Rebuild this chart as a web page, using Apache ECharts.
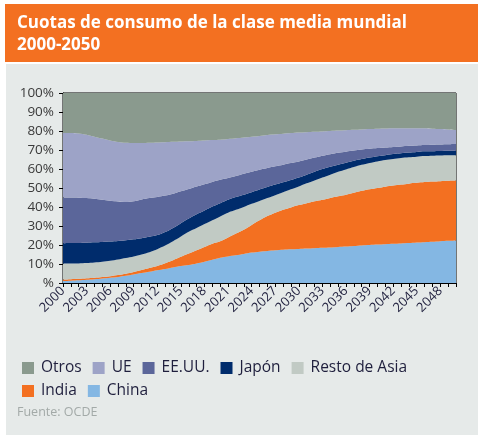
<!DOCTYPE html>
<html>
<head>
<meta charset="utf-8">
<script src="https://cdn.jsdelivr.net/npm/echarts@6/dist/echarts.min.js"></script>
<style>
  html, body { margin: 0; padding: 0; background: #fff; }
  #chart { width: 482px; height: 441px; }
</style>
</head>
<body>
<div id="chart"></div>
<script>
// cuotas de consumo, % del total
const years = [];
for (let y = 2000; y <= 2050; y++) years.push(String(y));

const china = [1.0, 1.2, 1.4, 1.7, 2.0, 2.4, 2.8, 3.2, 3.8, 4.5, 5.2, 5.9, 6.7, 7.4, 8.2, 8.9, 9.5, 10.3, 11.2, 12.3, 13.3,
  14.0, 14.6, 15.3, 16.0, 16.5, 16.9, 17.2, 17.5, 17.7, 17.9, 18.1, 18.3, 18.5, 18.7, 19.0, 19.2, 19.5, 19.8, 20.0, 20.2,
  20.4, 20.6, 20.8, 21.0, 21.3, 21.5, 21.7, 22.0, 22.2, 22.4];
const india = [0.8, 0.8, 0.8, 0.8, 0.8, 0.8, 0.8, 1.0, 1.1, 1.3, 1.6, 2.0, 2.3, 3.0, 3.8, 4.9, 6.0, 6.9, 7.8, 8.4, 8.7,
  10.0, 11.4, 12.7, 14.5, 16.5, 18.3, 19.8, 21.0, 22.1, 23.1, 23.9, 24.7, 25.3, 26.1, 26.7, 27.3, 28.0, 28.7, 29.3, 29.8,
  30.3, 30.7, 31.0, 31.3, 31.4, 31.6, 31.7, 31.6, 31.6, 31.5];
const restoAsia = [8.4, 8.2, 8.1, 8.0, 8.0, 8.0, 8.1, 8.2, 8.3, 8.2, 8.2, 8.3, 8.8, 9.3, 10.0, 10.7, 11.5, 11.8, 12.0, 12.3, 13.0,
  13.0, 12.5, 12.0, 11.2, 10.2, 9.5, 9.2, 9.3, 9.5, 9.8, 10.5, 11.0, 11.7, 12.2, 12.8, 13.3, 13.5, 13.7, 13.9, 14.0,
  14.0, 14.0, 14.0, 13.9, 13.8, 13.7, 13.6, 13.5, 13.4, 13.3];
const japon = [10.7, 10.8, 10.8, 10.7, 10.6, 10.4, 10.1, 9.7, 9.3, 9.0, 8.6, 8.1, 7.4, 7.1, 7.0, 7.0, 7.0, 7.2, 7.2, 7.2, 7.0,
  6.8, 6.7, 6.5, 6.1, 6.0, 5.8, 5.6, 5.2, 4.9, 4.7, 4.5, 4.6, 4.5, 4.2, 3.8, 3.5, 3.3, 3.0, 2.8, 2.7,
  2.6, 2.6, 2.5, 2.5, 2.5, 2.5, 2.4, 2.4, 2.4, 2.4];
const eeuu = [24.1, 24.0, 23.8, 23.5, 22.9, 22.2, 21.5, 20.8, 20.1, 20.0, 20.4, 20.5, 20.1, 19.2, 18.0, 16.8, 15.5, 14.6, 13.8, 13.0, 12.3,
  11.4, 11.1, 11.0, 10.8, 10.4, 10.0, 9.6, 9.3, 8.9, 8.5, 8.0, 7.4, 7.0, 6.6, 6.2, 5.8, 5.4, 5.0, 4.6, 4.3,
  4.0, 3.7, 3.6, 3.5, 3.4, 3.3, 3.4, 3.4, 3.4, 3.5];
const ue = [34.0, 34.0, 33.8, 33.3, 32.7, 32.2, 31.7, 31.3, 31.2, 30.7, 29.7, 29.0, 28.7, 28.1, 27.3, 26.2, 25.1, 24.0, 23.0, 22.0, 21.1,
  20.6, 19.9, 19.1, 18.4, 17.8, 17.4, 16.9, 16.3, 15.8, 15.2, 14.4, 13.6, 12.8, 12.2, 11.7, 11.3, 10.9, 10.6, 10.4, 10.2,
  10.0, 9.8, 9.6, 9.3, 9.1, 8.8, 8.4, 8.1, 7.8, 7.4];
const otros = [21.0, 21.0, 21.3, 22.0, 23.0, 24.0, 25.0, 25.8, 26.2, 26.3, 26.3, 26.2, 26.0, 25.9, 25.7, 25.5, 25.4, 25.2, 25.0, 24.8, 24.6,
  24.2, 23.8, 23.4, 23.0, 22.6, 22.1, 21.7, 21.4, 21.1, 20.8, 20.6, 20.4, 20.2, 20.0, 19.8, 19.6, 19.4, 19.2, 19.0, 18.8,
  18.7, 18.6, 18.5, 18.5, 18.5, 18.6, 18.8, 19.0, 19.2, 19.5];

const myChart = echarts.init(document.getElementById('chart'));

const font = '"Open Sans", sans-serif';
const textDark = '#1f1f3d';

// de abajo hacia arriba
const stackOrder = [
  { name: 'China', data: china, color: '#84b7e3' },
  { name: 'India', data: india, color: '#f37021' },
  { name: 'Resto de Asia', data: restoAsia, color: '#c1cac4' },
  { name: 'Japón', data: japon, color: '#002c6c' },
  { name: 'EE.UU.', data: eeuu, color: '#5b669a' },
  { name: 'UE', data: ue, color: '#9da3c7' },
  { name: 'Otros', data: otros, color: '#8a9a8e' }
];

const legendStyle = {
  orient: 'horizontal',
  left: 17,
  icon: 'rect',
  itemWidth: 12,
  itemHeight: 12,
  itemGap: 11,
  textStyle: { fontFamily: font, fontSize: 15.5, color: textDark, padding: [0, 0, 0, 2] }
};

const option = {
  animation: false,
  textStyle: { fontFamily: font },
  graphic: [
    { type: 'rect', shape: { x: 5, y: 4, width: 473, height: 58 }, style: { fill: '#f37021' }, z: -10 },
    { type: 'rect', shape: { x: 6, y: 64, width: 472, height: 371 }, style: { fill: '#e6eae9' }, z: -10 },
    {
      type: 'text', left: 17, top: 12,
      style: {
        text: 'Cuotas de consumo de la clase media mundial\n2000-2050',
        font: 'bold 17px "Open Sans", sans-serif',
        fill: '#fff',
        lineHeight: 22
      }
    },
    {
      type: 'text', left: 17, top: 406,
      style: { text: 'Fuente: OCDE', font: '12.5px "Open Sans", sans-serif', fill: '#a3aaa8' }
    }
  ],
  legend: [
    Object.assign({ top: 355, data: ['Otros', 'UE', 'EE.UU.', 'Japón', 'Resto de Asia'] }, legendStyle),
    Object.assign({ top: 378, data: ['India', 'China'] }, legendStyle)
  ],
  grid: {
    left: 63,
    top: 93,
    right: 26,
    bottom: 158,
    show: true,
    borderColor: '#000',
    borderWidth: 1
  },
  xAxis: {
    type: 'category',
    data: years,
    boundaryGap: false,
    axisLine: { lineStyle: { color: '#000', width: 1 } },
    axisTick: { interval: 0, length: 4, lineStyle: { color: '#000' } },
    axisLabel: {
      interval: 2,
      rotate: 45,
      margin: 6,
      fontSize: 13,
      color: textDark
    }
  },
  yAxis: {
    type: 'value',
    min: 0,
    max: 100,
    interval: 10,
    splitLine: { show: false },
    axisLine: { show: true, lineStyle: { color: '#000', width: 1 } },
    axisTick: { show: true, length: 4, lineStyle: { color: '#000' } },
    axisLabel: {
      margin: 9,
      fontSize: 13.5,
      color: '#3a3a3a',
      formatter: v => (v === 0 ? '%' : v + '%')
    }
  },
  series: stackOrder.map(s => ({
    name: s.name,
    type: 'line',
    stack: 'total',
    data: s.data,
    smooth: 0.3,
    showSymbol: false,
    lineStyle: { width: 0 },
    areaStyle: { color: s.color, opacity: 1 },
    itemStyle: { color: s.color }
  }))
};

option && myChart.setOption(option);
</script>
</body>
</html>
